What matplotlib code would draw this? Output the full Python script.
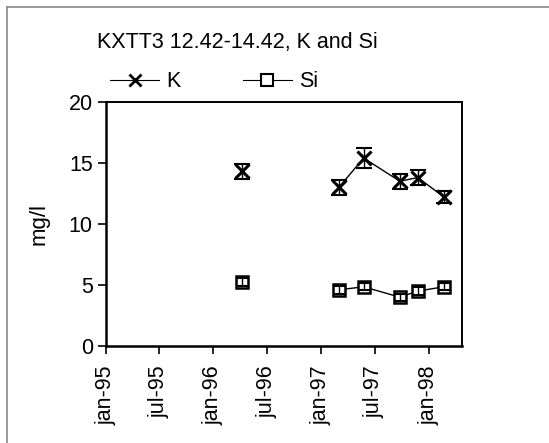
import numpy as np
import matplotlib
matplotlib.use("Agg")
import matplotlib.pyplot as plt
import matplotlib.dates as mdates
from matplotlib.lines import Line2D

plt.rcParams['font.family'] = ['Liberation Sans', 'DejaVu Sans']

# sampling dates and values (mg/l)
dates = np.array(['1996-04-06', '1997-03-02', '1997-05-25', '1997-09-25',
                  '1997-11-25', '1998-02-22'], dtype='datetime64[D]')
k_vals = [14.3, 13.0, 15.4, 13.5, 13.8, 12.2]
k_err = [0.6, 0.6, 0.8, 0.6, 0.6, 0.5]
si_vals = [5.25, 4.6, 4.85, 4.0, 4.5, 4.85]
si_err = [0.3, 0.3, 0.3, 0.3, 0.3, 0.3]
x_ticks = ['1995-01-01', '1995-07-01', '1996-01-01', '1996-07-01',
           '1997-01-01', '1997-07-01', '1998-01-01']
x_labels = ['jan-95', 'jul-95', 'jan-96', 'jul-96', 'jan-97', 'jul-97', 'jan-98']
title = 'KXTT3 12.42-14.42, K and Si'

fig = plt.figure(figsize=(5.49, 4.43), dpi=100)
ax = fig.add_axes([0.193, 0.219, 0.6485, 0.551])

# border of the original page scan
fig.add_artist(Line2D([0.013, 1.0], [0.984, 0.984], transform=fig.transFigure,
                      color='#888888', lw=1.2))
fig.add_artist(Line2D([0.013, 0.013], [0.0, 0.984], transform=fig.transFigure,
                      color='#888888', lw=1.2))

x = mdates.date2num(dates)

# only join samples that are close in time (gap before 1997)
gaps = np.where(np.diff(x) > 200)[0] + 1
segments = np.split(np.arange(len(x)), gaps)

for vals, err, mk, ms in [(k_vals, k_err, 'x', 10), (si_vals, si_err, 's', 9)]:
    vals = np.array(vals)
    for seg in segments:
        ax.plot(x[seg], vals[seg], '-', color='black', lw=1.0, zorder=2)
    ax.plot(x, vals, linestyle='none', marker=mk, ms=ms, mew=2.2 if mk == 'x' else 1.8,
            mfc='white', mec='black', zorder=3)
    ax.errorbar(x, vals, yerr=err, fmt='none', ecolor='black', elinewidth=1.0,
                capsize=5.5 if mk == 'x' else 4.0, capthick=1.5, zorder=4)

ax.set_xlim(mdates.date2num(np.datetime64('1995-01-01')),
            mdates.date2num(np.datetime64('1998-04-24')))
ax.set_ylim(0, 20)
ax.set_yticks([0, 5, 10, 15, 20])
ax.set_xticks(mdates.date2num(np.array(x_ticks, dtype='datetime64[D]')))
ax.set_xticklabels(x_labels, rotation=90)
ax.tick_params(direction='out', length=6, width=1.2, labelsize=15.5, color='black')
ax.tick_params(axis='x', pad=8)
ax.set_ylabel('mg/l', fontsize=16, labelpad=14)
for side in ['left', 'bottom']:
    ax.spines[side].set_linewidth(1.8)
for side in ['top', 'right']:
    ax.spines[side].set_linewidth(1.4)

handles = [Line2D([], [], color='black', lw=0.8, marker='x', ms=9, mew=2.0),
           Line2D([], [], color='black', lw=0.8, marker='s', ms=9, mew=1.5, mfc='white')]
fig.legend(handles, ['K', 'Si'], loc='center left', bbox_to_anchor=(0.165, 0.815),
           ncol=2, frameon=False, fontsize=15.5, handlelength=2.3,
           handletextpad=0.3, columnspacing=2.9)

fig.text(0.177, 0.905, title, fontsize=15.5, ha='left', va='center')

fig.savefig('out.png', dpi=100)
